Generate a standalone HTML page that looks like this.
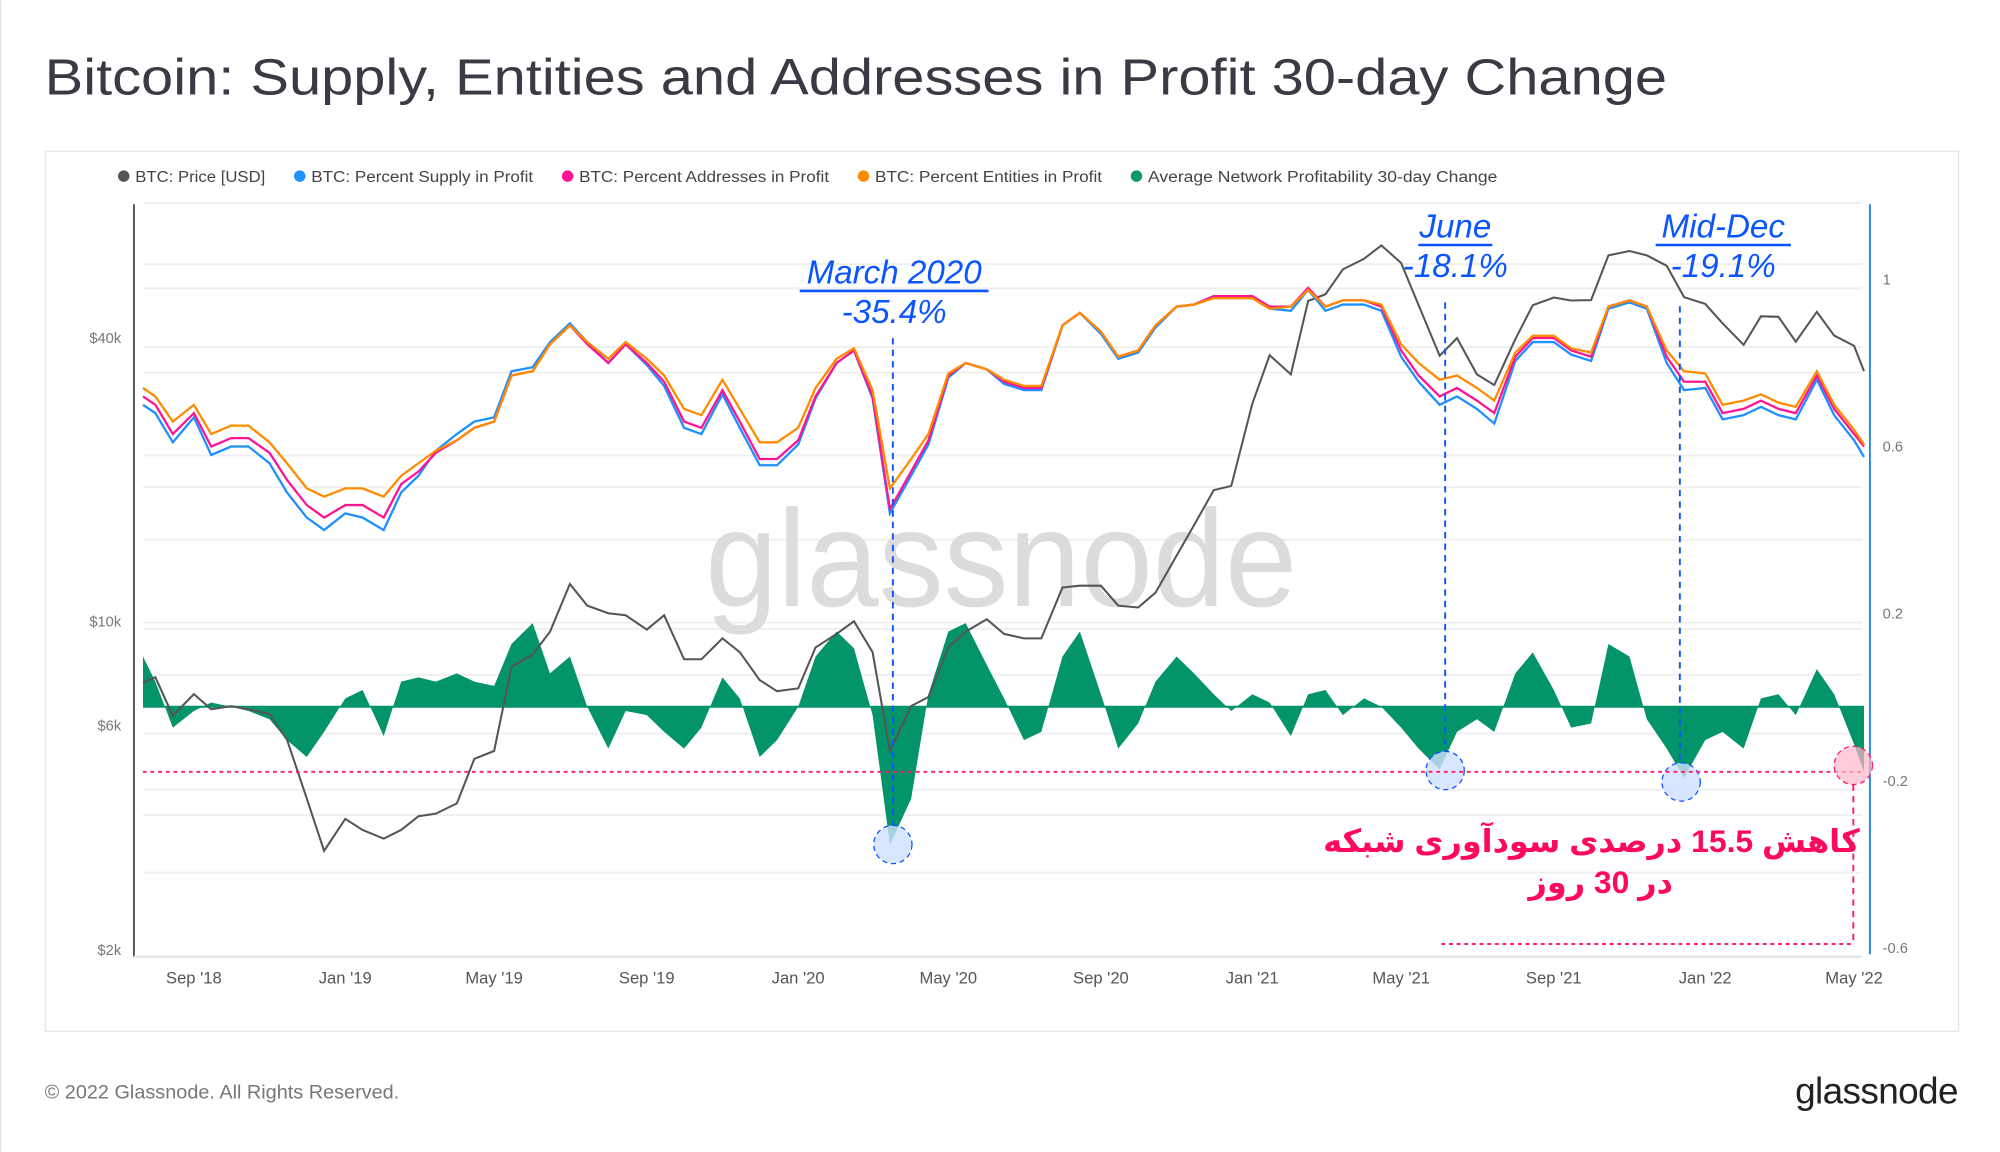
<!DOCTYPE html>
<html><head><meta charset="utf-8">
<style>
html,body{margin:0;padding:0;background:#fff;}
svg{display:block;font-family:"Liberation Sans",sans-serif;}
</style></head>
<body>
<svg id="chart" width="2000" height="1152" viewBox="0 0 1568 903" xmlns="http://www.w3.org/2000/svg">
<rect x="0" y="0" width="1568" height="903" fill="#fff"/>
<line x1="0.5" y1="0" x2="0.5" y2="903" stroke="#e4e4e4"/>
<text x="35" y="74" font-size="40" fill="#3a3a44" textLength="1272" lengthAdjust="spacingAndGlyphs">Bitcoin: Supply, Entities and Addresses in Profit 30-day Change</text>
<rect x="35.5" y="118.5" width="1500" height="690" fill="none" stroke="#e6e6e6"/>
<g font-size="12.5" fill="#444">
 <g><circle cx="97" cy="138" r="4.5" fill="#555"/><text x="106" y="142.5" textLength="102" lengthAdjust="spacingAndGlyphs">BTC: Price [USD]</text></g>
 <g><circle cx="235" cy="138" r="4.5" fill="#1e90ff"/><text x="244" y="142.5" textLength="174" lengthAdjust="spacingAndGlyphs">BTC: Percent Supply in Profit</text></g>
 <g><circle cx="445" cy="138" r="4.5" fill="#ff1493"/><text x="454" y="142.5" textLength="196" lengthAdjust="spacingAndGlyphs">BTC: Percent Addresses in Profit</text></g>
 <g><circle cx="677" cy="138" r="4.5" fill="#ff8c00"/><text x="686" y="142.5" textLength="178" lengthAdjust="spacingAndGlyphs">BTC: Percent Entities in Profit</text></g>
 <g><circle cx="891" cy="138" r="4.5" fill="#0a9a68"/><text x="900" y="142.5" textLength="274" lengthAdjust="spacingAndGlyphs">Average Network Profitability 30-day Change</text></g>
</g>
<g id="grid"></g>
<text x="553" y="475" font-size="108" fill="#dcdcdc" textLength="464" lengthAdjust="spacingAndGlyphs">glassnode</text>
<g id="series"></g>
<line x1="105" y1="160" x2="105" y2="750" stroke="#555" stroke-width="1.5"/>
<line x1="1466" y1="160" x2="1466" y2="748" stroke="#1e88e5" stroke-width="1.5"/>
<line x1="105" y1="750" x2="1460" y2="750" stroke="#e6e6e6" stroke-width="2"/>
<g id="axes" font-size="11.5" fill="#777"></g>
<g fill="#0a55ff" font-style="italic" font-size="26">
 <g>
  <text x="701" y="222" text-anchor="middle">March 2020</text>
  <line x1="627" y1="228" x2="775" y2="228" stroke="#0a55ff" stroke-width="2"/>
  <text x="701" y="253" text-anchor="middle">-35.4%</text>
  <line x1="700" y1="265" x2="700" y2="648" stroke="#0a55ff" stroke-width="1.5" stroke-dasharray="5,4"/>
  <circle cx="700" cy="662" r="15" fill="#cfe0ff" fill-opacity="0.8" stroke="#0a55ff" stroke-dasharray="4,3"/>
 </g>
 <g>
  <text x="1141" y="186" text-anchor="middle">June</text>
  <line x1="1112" y1="192" x2="1170" y2="192" stroke="#0a55ff" stroke-width="2"/>
  <text x="1141" y="217" text-anchor="middle">-18.1%</text>
  <line x1="1133" y1="237" x2="1133" y2="590" stroke="#0a55ff" stroke-width="1.5" stroke-dasharray="5,4"/>
  <circle cx="1133" cy="604" r="15" fill="#cfe0ff" fill-opacity="0.8" stroke="#0a55ff" stroke-dasharray="4,3"/>
 </g>
 <g>
  <text x="1351" y="186" text-anchor="middle">Mid-Dec</text>
  <line x1="1298" y1="192" x2="1404" y2="192" stroke="#0a55ff" stroke-width="2"/>
  <text x="1351" y="217" text-anchor="middle">-19.1%</text>
  <line x1="1317" y1="240" x2="1317" y2="598" stroke="#0a55ff" stroke-width="1.5" stroke-dasharray="5,4"/>
  <circle cx="1318" cy="613" r="15" fill="#cfe0ff" fill-opacity="0.8" stroke="#0a55ff" stroke-dasharray="4,3"/>
 </g>
</g>
<g>
 <line x1="112" y1="605" x2="1460" y2="605" stroke="#ff1a6c" stroke-width="1.5" stroke-dasharray="3,3"/>
 <circle cx="1453" cy="600" r="15" fill="#ffb6c9" fill-opacity="0.7" stroke="#ff1a6c" stroke-dasharray="4,3"/>
 <line x1="1453" y1="615" x2="1453" y2="740" stroke="#ff1a6c" stroke-width="1.5" stroke-dasharray="5,4"/>
 <line x1="1130" y1="740" x2="1453" y2="740" stroke="#ff1a6c" stroke-width="1.5" stroke-dasharray="3,3"/>
 <text x="1458" y="668" text-anchor="start" font-size="25" font-weight="bold" fill="#ff0a5a" font-family="'Liberation Sans','DejaVu Sans',sans-serif" direction="rtl">کاهش 15.5 درصدی سودآوری شبکه</text>
 <text x="1255" y="700" text-anchor="middle" font-size="25" font-weight="bold" fill="#ff0a5a" font-family="'Liberation Sans','DejaVu Sans',sans-serif" direction="rtl">در 30 روز</text>
</g>
<text x="35" y="861" font-size="15" fill="#777" textLength="278" lengthAdjust="spacingAndGlyphs">© 2022 Glassnode. All Rights Reserved.</text>
<text x="1535" y="865" font-size="29" fill="#222" text-anchor="end" letter-spacing="-0.5">glassnode</text>
</svg>
<script>
const dates = ["2018-07-22","2018-08-01","2018-08-15","2018-09-01","2018-09-15","2018-10-01","2018-10-15","2018-11-01","2018-11-15","2018-12-01","2018-12-15",
"2019-01-01","2019-01-15","2019-02-01","2019-02-15","2019-03-01","2019-03-15","2019-04-01","2019-04-15","2019-05-01","2019-05-15","2019-06-01","2019-06-15","2019-07-01","2019-07-15","2019-08-01","2019-08-15","2019-09-01","2019-09-15","2019-10-01","2019-10-15","2019-11-01","2019-11-15","2019-12-01","2019-12-15",
"2020-01-01","2020-01-15","2020-02-01","2020-02-15","2020-03-01","2020-03-15","2020-04-01","2020-04-15","2020-05-01","2020-05-15","2020-06-01","2020-06-15","2020-07-01","2020-07-15","2020-08-01","2020-08-15","2020-09-01","2020-09-15","2020-10-01","2020-10-15","2020-11-01","2020-11-15","2020-12-01","2020-12-15",
"2021-01-01","2021-01-15","2021-02-01","2021-02-15","2021-03-01","2021-03-15","2021-04-01","2021-04-15","2021-05-01","2021-05-15","2021-06-01","2021-06-15","2021-07-01","2021-07-15","2021-08-01","2021-08-15","2021-09-01","2021-09-15","2021-10-01","2021-10-15","2021-11-01","2021-11-15","2021-12-01","2021-12-15",
"2022-01-01","2022-01-15","2022-02-01","2022-02-15","2022-03-01","2022-03-15","2022-04-01","2022-04-15","2022-05-01","2022-05-09"];
const price = [7400,7600,6300,7000,6500,6600,6500,6350,5600,4200,3250,
3800,3600,3450,3600,3850,3900,4100,5100,5300,8000,8500,9500,12000,10800,10400,10300,9600,10300,8300,8300,9200,8600,7500,7100,
7200,8800,9400,10000,8600,5300,6600,6900,8800,9500,10100,9400,9200,9200,11800,11900,11900,10800,10700,11500,13800,16000,19000,19400,
29000,36800,33500,48000,49600,56000,59000,63000,57800,47000,36700,40000,33500,31800,39800,47000,48800,48100,48200,60000,61300,60000,57000,48900,
47300,43000,38700,44500,44400,39300,45500,40500,38500,34000];
const addresses = [0.72,0.70,0.63,0.68,0.60,0.62,0.62,0.585,0.52,0.46,0.43,
0.46,0.46,0.43,0.51,0.54,0.585,0.615,0.645,0.66,0.77,0.78,0.845,0.89,0.845,0.80,0.845,0.80,0.755,0.66,0.645,0.735,0.66,0.57,0.57,
0.615,0.72,0.80,0.83,0.72,0.45,0.54,0.615,0.77,0.80,0.785,0.755,0.74,0.74,0.89,0.92,0.875,0.815,0.83,0.89,0.935,0.94,0.96,0.96,
0.96,0.935,0.935,0.98,0.935,0.95,0.95,0.935,0.83,0.77,0.72,0.74,0.71,0.68,0.815,0.86,0.86,0.83,0.815,0.935,0.95,0.935,0.815,0.755,
0.755,0.68,0.69,0.71,0.69,0.68,0.77,0.69,0.63,0.60];
const supply = [0.70,0.68,0.61,0.67,0.58,0.60,0.60,0.56,0.49,0.43,0.40,
0.44,0.43,0.40,0.49,0.53,0.59,0.63,0.66,0.67,0.78,0.79,0.85,0.895,0.85,0.80,0.845,0.795,0.745,0.645,0.63,0.725,0.645,0.555,0.555,
0.605,0.715,0.80,0.83,0.715,0.44,0.53,0.605,0.765,0.80,0.785,0.75,0.735,0.735,0.89,0.92,0.87,0.81,0.825,0.885,0.935,0.94,0.96,0.96,
0.955,0.93,0.925,0.975,0.925,0.94,0.94,0.925,0.815,0.755,0.70,0.72,0.69,0.655,0.805,0.85,0.85,0.82,0.805,0.93,0.945,0.93,0.80,0.735,
0.74,0.665,0.675,0.695,0.675,0.665,0.76,0.675,0.615,0.575];
const entities = [0.74,0.72,0.66,0.70,0.63,0.65,0.65,0.61,0.56,0.50,0.48,
0.50,0.50,0.48,0.53,0.56,0.59,0.615,0.645,0.66,0.77,0.78,0.845,0.89,0.85,0.81,0.85,0.81,0.77,0.69,0.675,0.76,0.69,0.61,0.61,
0.645,0.74,0.81,0.835,0.735,0.50,0.57,0.63,0.775,0.80,0.785,0.76,0.745,0.745,0.89,0.92,0.875,0.815,0.83,0.89,0.935,0.94,0.955,0.955,
0.955,0.93,0.935,0.975,0.935,0.95,0.95,0.94,0.845,0.80,0.76,0.77,0.74,0.71,0.825,0.865,0.865,0.835,0.825,0.935,0.95,0.935,0.83,0.78,
0.775,0.70,0.71,0.725,0.705,0.695,0.78,0.70,0.64,0.605];
const change = [0.12,0.06,-0.05,-0.01,0.01,0.0,-0.01,-0.03,-0.08,-0.12,-0.06,
0.02,0.04,-0.07,0.06,0.07,0.06,0.08,0.06,0.05,0.15,0.2,0.08,0.12,0.0,-0.1,-0.01,-0.02,-0.06,-0.1,-0.05,0.07,0.02,-0.12,-0.08,
0.0,0.12,0.18,0.14,-0.02,-0.33,-0.22,0.03,0.18,0.2,0.1,0.02,-0.08,-0.06,0.12,0.18,0.03,-0.1,-0.04,0.06,0.12,0.08,0.03,-0.01,
0.03,0.01,-0.07,0.03,0.04,-0.02,0.02,0.0,-0.05,-0.1,-0.15,-0.06,-0.03,-0.06,0.08,0.13,0.04,-0.05,-0.04,0.15,0.12,-0.03,-0.1,-0.17,
-0.08,-0.06,-0.1,0.02,0.03,-0.02,0.09,0.03,-0.09,-0.155];
const xTickLabels = ["Sep '18","Jan '19","May '19","Sep '19","Jan '20","May '20","Sep '20","Jan '21","May '21","Sep '21","Jan '22","May '22"];
const xTickDates = ["2018-09-01","2019-01-01","2019-05-01","2019-09-01","2020-01-01","2020-05-01","2020-09-01","2021-01-01","2021-05-01","2021-09-01","2022-01-01","2022-05-01"];
const priceTicks = [40000,10000,6000,2000];
const priceTickLabels = ["$40k","$10k","$6k","$2k"];
const rightTicks = [1,0.6,0.2,-0.2,-0.6];
const rightTickLabels = ["1","0.6","0.2","-0.2","-0.6"];

const NS = "http://www.w3.org/2000/svg";
const d0 = Date.parse("2018-09-01");
function xs(d){ return 152 + (Date.parse(d)-d0)/86400000*0.9728; }
function yPrice(p){ return 487 - (Math.log10(p)-4)*368.7; }
function yRight(v){ return 546.5 - v*327.5; }
function yChange(v){ return 554 - v*328; }

const grid = document.getElementById('grid');
[159,207,226,272,292,357,382,423,488,493,529,575,619,639,684].forEach(function(g){
  const l = document.createElementNS(NS,'line');
  
  
  l.setAttribute('x1',112); l.setAttribute('x2',1460);
  l.setAttribute('y1',g); l.setAttribute('y2',g);
  l.setAttribute('stroke','#efefef'); l.setAttribute('stroke-width','1.5');
  grid.appendChild(l);
});

const series = document.getElementById('series');
let dA = "M" + xs(dates[0]).toFixed(1) + "," + yChange(0);
for (let i=0;i<dates.length;i++){ dA += " L" + xs(dates[i]).toFixed(1) + "," + yChange(change[i]).toFixed(1); }
dA += " L" + xs(dates[dates.length-1]).toFixed(1) + "," + yChange(0) + " Z";
const area = document.createElementNS(NS,'path');


area.setAttribute('d', dA);
area.setAttribute('fill','#04946a');
series.appendChild(area);
const base = document.createElementNS(NS,'line');


base.setAttribute('x1', xs(dates[0])); base.setAttribute('x2', xs(dates[dates.length-1]));
base.setAttribute('y1', yChange(0)); base.setAttribute('y2', yChange(0));
base.setAttribute('stroke','#04946a'); base.setAttribute('stroke-width','1.5');
series.appendChild(base);

function linePath(vals, yf){
  let s = "";
  for (let i=0;i<vals.length;i++){ s += (i?" L":"M") + xs(dates[i]).toFixed(1) + "," + yf(vals[i]).toFixed(1); }
  return s;
}
const pLine = document.createElementNS(NS,'path');


pLine.setAttribute('d', linePath(price, yPrice));
pLine.setAttribute('fill','none'); pLine.setAttribute('stroke','#555'); pLine.setAttribute('stroke-width','1.6');
series.appendChild(pLine);

const sLine = document.createElementNS(NS,'path');


sLine.setAttribute('d', linePath(supply, yRight));
sLine.setAttribute('fill','none'); sLine.setAttribute('stroke','#1e90ff'); sLine.setAttribute('stroke-width','1.8');
series.appendChild(sLine);

const aLine = document.createElementNS(NS,'path');


aLine.setAttribute('d', linePath(addresses, yRight));
aLine.setAttribute('fill','none'); aLine.setAttribute('stroke','#ff1493'); aLine.setAttribute('stroke-width','1.8');
series.appendChild(aLine);

const eLine = document.createElementNS(NS,'path');


eLine.setAttribute('d', linePath(entities, yRight));
eLine.setAttribute('fill','none'); eLine.setAttribute('stroke','#ff8c00'); eLine.setAttribute('stroke-width','1.8');
series.appendChild(eLine);

const axes = document.getElementById('axes');
for (let i=0;i<xTickLabels.length;i++){
  const t = document.createElementNS(NS,'text');
  
  
  t.setAttribute('x', xs(xTickDates[i])); t.setAttribute('y', 771);
  t.setAttribute('text-anchor','middle'); t.setAttribute('font-size','13'); t.setAttribute('fill','#555');
  t.textContent = xTickLabels[i];
  axes.appendChild(t);
}
for (let i=0;i<priceTicks.length;i++){
  const t = document.createElementNS(NS,'text');
  
  
  t.setAttribute('x', 95); t.setAttribute('y', yPrice(priceTicks[i])+4);
  t.setAttribute('text-anchor','end');
  t.textContent = priceTickLabels[i];
  axes.appendChild(t);
}
for (let i=0;i<rightTicks.length;i++){
  const t = document.createElementNS(NS,'text');
  
  
  t.setAttribute('x', 1476); t.setAttribute('y', yRight(rightTicks[i])+4);
  t.textContent = rightTickLabels[i];
  axes.appendChild(t);
}
</script>
</body></html>
